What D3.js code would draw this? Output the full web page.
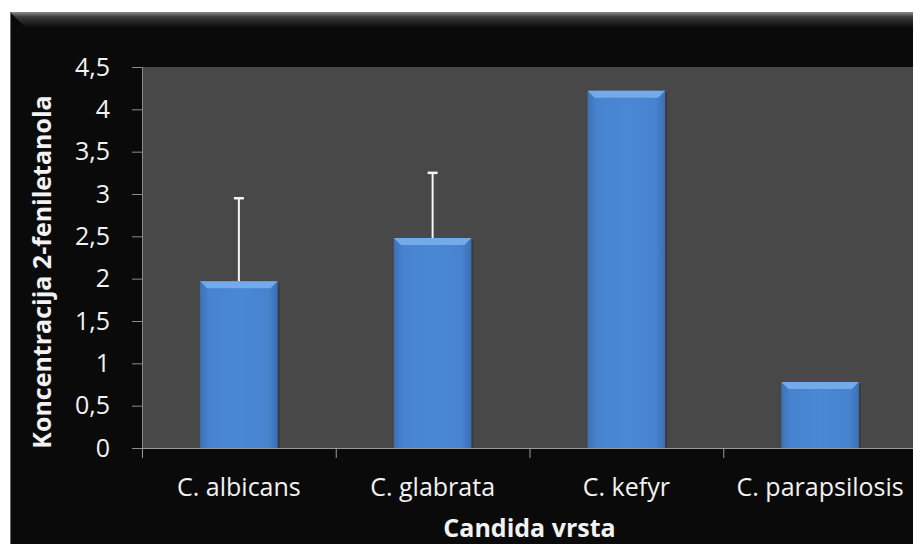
<!DOCTYPE html>
<html>
<head>
<meta charset="utf-8">
<script src="https://cdn.jsdelivr.net/npm/d3@7"></script>
<style>
  html, body { margin: 0; padding: 0; background: #fff; }
  svg { display: block; }
  text { font-family: "Open Sans", sans-serif; fill: #f2f2f2; }
</style>
</head>
<body>
<script>
const categories = ["C. albicans", "C. glabrata", "C. kefyr", "C. parapsilosis"];
const values = [1.97, 2.48, 4.22, 0.78];
const errors = [0.98, 0.77, 0, 0];
const yTicks = [0, 0.5, 1, 1.5, 2, 2.5, 3, 3.5, 4, 4.5];

const width = 913, height = 544;
const margin = { left: 142, top: 67, right: -4, bottom: 96 };
const font = "'Open Sans', sans-serif";

const svg = d3.select("body").append("svg")
    .attr("width", width)
    .attr("height", height);

const defs = svg.append("defs");

// top bevel of the chart box
let topGrad = defs.append("linearGradient").attr("id", "topBevel")
    .attr("x1", 0).attr("y1", 0).attr("x2", 0).attr("y2", 1);
topGrad.append("stop").attr("offset", "0%").attr("stop-color", "#8a8a8a");
topGrad.append("stop").attr("offset", "30%").attr("stop-color", "#3c3c3c");
topGrad.append("stop").attr("offset", "100%").attr("stop-color", "#0a0a0a");

let barGrad = defs.append("linearGradient").attr("id", "barFill")
    .attr("x1", 0).attr("y1", 0).attr("x2", 1).attr("y2", 0);
barGrad.append("stop").attr("offset", "0%").attr("stop-color", "#3d72b8");
barGrad.append("stop").attr("offset", "12%").attr("stop-color", "#4783ce");
barGrad.append("stop").attr("offset", "50%").attr("stop-color", "#4a88d4");
barGrad.append("stop").attr("offset", "88%").attr("stop-color", "#4783ce");
barGrad.append("stop").attr("offset", "100%").attr("stop-color", "#3b6fb3");

// chart box
svg.append("rect")
    .attr("x", 10).attr("y", 12)
    .attr("width", width).attr("height", height)
    .attr("fill", "#0a0a0a");
svg.append("path")
    .attr("d", `M10,12L${width},12L${width},28L26,28Z`)
    .attr("fill", "url(#topBevel)");
svg.append("line")
    .attr("x1", 10.5).attr("x2", 10.5).attr("y1", 12).attr("y2", height)
    .attr("stroke", "#6a6a6a").attr("stroke-width", 1);

const x = d3.scaleBand()
    .domain(categories)
    .range([margin.left, width - margin.right])
    .paddingInner(0.6)
    .paddingOuter(0.3);

const xBand = d3.scaleBand()
    .domain(categories)
    .range([margin.left, width - margin.right]);

const y = d3.scaleLinear()
    .domain([0, 4.5])
    .range([height - margin.bottom, margin.top]);

// plot area
svg.append("rect")
    .attr("x", margin.left).attr("y", margin.top)
    .attr("width", width - margin.left - margin.right)
    .attr("height", y(0) - margin.top)
    .attr("fill", "#484848");

// y axis
const yAxis = svg.append("g")
    .attr("transform", `translate(${margin.left},0)`)
    .call(d3.axisLeft(y).tickValues(yTicks).tickSize(10).tickPadding(22)
        .tickFormat(d => String(d).replace(".", ",")));
yAxis.select(".domain").attr("stroke", "#8c8c8c");
yAxis.selectAll(".tick line").attr("stroke", "#8c8c8c");
yAxis.selectAll(".tick text").attr("font-size", 25).attr("fill", "#f2f2f2")
    .attr("font-family", font);

// x axis
const xAxis = svg.append("g")
    .attr("transform", `translate(0,${y(0)})`)
    .call(d3.axisBottom(xBand).tickSize(0).tickPadding(30));
xAxis.select(".domain").attr("stroke", "#9a9a9a");
xAxis.selectAll(".tick text").attr("font-size", 25).attr("fill", "#f2f2f2")
    .attr("font-family", font);

// category separators
svg.append("g").selectAll("line")
    .data(categories)
    .join("line")
    .attr("x1", d => xBand(d) + 0.5).attr("x2", d => xBand(d) + 0.5)
    .attr("y1", y(0)).attr("y2", y(0) + 10)
    .attr("stroke", "#9a9a9a");

// bars
const bars = svg.append("g").selectAll("g")
    .data(categories)
    .join("g");

bars.append("rect")
    .attr("x", d => x(d) + 2)
    .attr("y", (d, i) => y(values[i]) + 2)
    .attr("width", x.bandwidth())
    .attr("height", (d, i) => y(0) - y(values[i]) - 2)
    .attr("fill", "#2e2e2e")
    .attr("opacity", 0.5);

bars.append("rect")
    .attr("x", d => x(d))
    .attr("y", (d, i) => y(values[i]))
    .attr("width", x.bandwidth())
    .attr("height", (d, i) => y(0) - y(values[i]))
    .attr("fill", "url(#barFill)");

// top bevel on each bar
bars.append("path")
    .attr("d", (d, i) => {
        let x0 = x(d), x1 = x(d) + x.bandwidth(), t = y(values[i]), b = 7;
        return `M${x0},${t}L${x1},${t}L${x1 - b},${t + b}L${x0 + b},${t + b}Z`;
    })
    .attr("fill", "#74a9ea");

// error bars
const err = svg.append("g").selectAll("g")
    .data(categories.filter((d, i) => errors[i] > 0))
    .join("g");

err.append("line")
    .attr("x1", d => x(d) + x.bandwidth() / 2)
    .attr("x2", d => x(d) + x.bandwidth() / 2)
    .attr("y1", d => y(values[categories.indexOf(d)]))
    .attr("y2", d => { let i = categories.indexOf(d); return y(values[i] + errors[i]); })
    .attr("stroke", "#f4f4f4").attr("stroke-width", 2);

err.append("line")
    .attr("x1", d => x(d) + x.bandwidth() / 2 - 5)
    .attr("x2", d => x(d) + x.bandwidth() / 2 + 5)
    .attr("y1", d => { let i = categories.indexOf(d); return y(values[i] + errors[i]); })
    .attr("y2", d => { let i = categories.indexOf(d); return y(values[i] + errors[i]); })
    .attr("stroke", "#f4f4f4").attr("stroke-width", 2.5);

// axis titles
svg.append("text")
    .attr("x", (margin.left + width - margin.right) / 2)
    .attr("y", 537)
    .attr("text-anchor", "middle")
    .attr("font-size", 25)
    .attr("font-weight", "bold")
    .text("Candida vrsta");

svg.append("text")
    .attr("transform", `translate(51,272) rotate(-90)`)
    .attr("text-anchor", "middle")
    .attr("font-size", 25)
    .attr("font-weight", "bold")
    .text("Koncentracija 2-feniletanola");
</script>
</body>
</html>
